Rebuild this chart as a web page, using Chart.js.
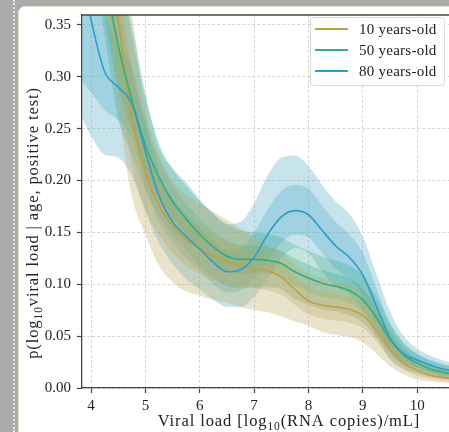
<!DOCTYPE html>
<html>
<head>
<meta charset="utf-8">
<script src="https://cdn.jsdelivr.net/npm/chart.js@4"></script>
<style>
  html, body { margin: 0; padding: 0; width: 449px; height: 432px; overflow: hidden; background: #ababab; }
  #dots { position: absolute; left: 13px; top: 0; height: 432px; border-left: 2px dotted #e4e4e4; }
  #card { position: absolute; left: 18px; top: 6px; width: 520px; height: 500px; background: #fff;
          border: 1px solid #f1e3d1; border-radius: 7px; }
  #chart { position: absolute; left: 0; top: 0; }
</style>
</head>
<body>
<div id="dots"></div>
<div id="card"></div>
<canvas id="chart" width="510" height="432"></canvas>
<script>
// x grid (log10 viral load)
const viralLoad = [3.75,4.0,4.25,4.5,4.75,5.0,5.25,5.5,5.75,6.0,6.25,6.5,6.75,7.0,7.25,7.5,
                   7.75,8.0,8.25,8.5,8.75,9.0,9.25,9.5,9.75,10.0,10.25,10.5,10.75,11.0,11.25,11.5];
const xTicks = [4, 5, 6, 7, 8, 9, 10, 11];
const yTicks = [0, 0.05, 0.10, 0.15, 0.20, 0.25, 0.30, 0.35];

// 10 years-old
const age10Mid   = [0.60,0.52,0.44,0.355,0.262,0.208,0.176,0.156,0.143,0.134,0.127,0.122,0.118,0.115,0.113,0.107,0.095,0.084,0.080,0.078,0.076,0.070,0.056,0.037,0.024,0.017,0.012,0.010,0.009,0.009,0.009,0.009];
const age10InLo  = [0.55,0.47,0.38,0.31,0.215,0.172,0.148,0.130,0.118,0.110,0.104,0.100,0.097,0.096,0.094,0.090,0.080,0.071,0.067,0.065,0.063,0.058,0.045,0.029,0.018,0.012,0.009,0.007,0.006,0.006,0.006,0.006];
const age10InHi  = [0.65,0.57,0.49,0.40,0.31,0.235,0.198,0.176,0.163,0.155,0.147,0.141,0.135,0.130,0.125,0.119,0.108,0.097,0.093,0.090,0.087,0.081,0.065,0.045,0.030,0.021,0.016,0.013,0.012,0.012,0.012,0.012];
const age10OutLo = [0.52,0.45,0.38,0.27,0.185,0.148,0.118,0.102,0.093,0.089,0.085,0.082,0.078,0.075,0.073,0.069,0.064,0.060,0.054,0.051,0.049,0.044,0.033,0.021,0.013,0.008,0.006,0.005,0.004,0.004,0.004,0.004];
const age10OutHi = [0.70,0.62,0.54,0.45,0.36,0.27,0.225,0.200,0.187,0.178,0.170,0.162,0.154,0.145,0.137,0.130,0.120,0.110,0.106,0.103,0.099,0.092,0.075,0.053,0.036,0.026,0.020,0.017,0.015,0.015,0.015,0.015];

// 50 years-old
const age50Mid   = [0.62,0.50,0.40,0.33,0.278,0.234,0.203,0.180,0.163,0.148,0.136,0.127,0.124,0.124,0.123,0.120,0.112,0.106,0.101,0.098,0.094,0.085,0.068,0.047,0.032,0.024,0.018,0.015,0.013,0.013,0.013,0.013];
const age50InLo  = [0.56,0.45,0.36,0.29,0.250,0.210,0.184,0.164,0.148,0.133,0.121,0.112,0.110,0.111,0.110,0.108,0.099,0.093,0.088,0.086,0.082,0.074,0.058,0.040,0.027,0.020,0.015,0.012,0.011,0.010,0.010,0.010];
const age50InHi  = [0.68,0.55,0.44,0.37,0.305,0.256,0.220,0.196,0.178,0.163,0.151,0.142,0.138,0.137,0.136,0.132,0.125,0.119,0.114,0.110,0.106,0.096,0.078,0.055,0.038,0.028,0.022,0.018,0.016,0.016,0.016,0.016];
const age50OutLo = [0.52,0.43,0.34,0.26,0.225,0.190,0.166,0.148,0.133,0.118,0.106,0.098,0.096,0.097,0.097,0.095,0.086,0.080,0.076,0.074,0.070,0.063,0.049,0.033,0.022,0.016,0.012,0.010,0.009,0.008,0.008,0.008];
const age50OutHi = [0.72,0.60,0.50,0.42,0.340,0.280,0.236,0.211,0.195,0.180,0.168,0.158,0.152,0.150,0.148,0.145,0.138,0.132,0.127,0.123,0.118,0.108,0.088,0.063,0.044,0.033,0.026,0.022,0.020,0.019,0.019,0.019];

// 80 years-old
const age80Mid   = [0.42,0.355,0.305,0.290,0.274,0.228,0.185,0.160,0.146,0.134,0.121,0.112,0.114,0.126,0.148,0.165,0.171,0.167,0.152,0.137,0.126,0.109,0.079,0.048,0.033,0.027,0.022,0.018,0.016,0.015,0.015,0.015];
const age80InLo  = [0.30,0.285,0.268,0.258,0.240,0.195,0.160,0.140,0.125,0.113,0.100,0.092,0.094,0.105,0.123,0.140,0.148,0.145,0.130,0.115,0.105,0.088,0.062,0.035,0.024,0.020,0.016,0.013,0.012,0.011,0.011,0.011];
const age80InHi  = [0.45,0.40,0.36,0.33,0.310,0.258,0.208,0.182,0.168,0.155,0.142,0.133,0.135,0.150,0.172,0.190,0.196,0.192,0.176,0.160,0.148,0.130,0.096,0.062,0.042,0.033,0.027,0.023,0.020,0.019,0.019,0.019];
const age80OutLo = [0.27,0.243,0.225,0.222,0.205,0.170,0.140,0.120,0.105,0.095,0.085,0.078,0.078,0.088,0.105,0.125,0.135,0.130,0.112,0.098,0.090,0.075,0.050,0.027,0.018,0.014,0.011,0.009,0.008,0.008,0.008,0.008];
const age80OutHi = [0.50,0.45,0.42,0.39,0.350,0.285,0.232,0.212,0.198,0.182,0.168,0.158,0.160,0.178,0.205,0.222,0.224,0.214,0.196,0.180,0.168,0.146,0.110,0.074,0.050,0.038,0.031,0.026,0.023,0.022,0.022,0.022];

const FONT = "Liberation Serif";

const series = [
  { label: "10 years-old", color: "#bfa041", band: "rgba(190,168,95,0.32)", order: 2,
    mid: age10Mid, inLo: age10InLo, inHi: age10InHi, outLo: age10OutLo, outHi: age10OutHi },
  { label: "50 years-old", color: "#30b07e", band: "rgba(60,168,140,0.30)", order: 1,
    mid: age50Mid, inLo: age50InLo, inHi: age50InHi, outLo: age50OutLo, outHi: age50OutHi },
  { label: "80 years-old", color: "#2b9fc9", band: "rgba(80,170,200,0.32)", order: 0,
    mid: age80Mid, inLo: age80InLo, inHi: age80InHi, outLo: age80OutLo, outHi: age80OutHi }
];

const pts = arr => viralLoad.map((x, i) => ({ x: x, y: arr[i] }));

const datasets = [];
series.forEach(s => {
  const edge = { borderWidth: 0, borderColor: "rgba(0,0,0,0)", pointRadius: 0, order: 10 };
  datasets.push(Object.assign({ data: pts(s.outLo), fill: false }, edge));
  datasets.push(Object.assign({ data: pts(s.outHi), fill: "-1", backgroundColor: s.band }, edge));
  datasets.push(Object.assign({ data: pts(s.inLo), fill: false }, edge));
  datasets.push(Object.assign({ data: pts(s.inHi), fill: "-1", backgroundColor: s.band }, edge));
});
series.forEach(s => {
  datasets.push({ label: s.label, data: pts(s.mid), borderColor: s.color, borderWidth: 1.6,
                  pointRadius: 0, fill: false, order: s.order });
});

// text with a "10" subscript after "log"
function richText(ctx, parts, cx, baseline) {
  const big = "16.5px '" + FONT + "'", small = "11.5px '" + FONT + "'";
  ctx.letterSpacing = "0.9px";
  let w = 0;
  parts.forEach(p => { ctx.font = p.sub ? small : big; w += ctx.measureText(p.t).width; });
  let x = cx - w / 2;
  ctx.textAlign = "left";
  ctx.textBaseline = "alphabetic";
  parts.forEach(p => {
    ctx.font = p.sub ? small : big;
    ctx.fillText(p.t, x, baseline + (p.sub ? 4 : 0));
    x += ctx.measureText(p.t).width;
  });
  ctx.letterSpacing = "0px";
}

const decor = {
  id: "decor",
  afterDraw(chart) {
    const { ctx, chartArea: a } = chart;
    ctx.save();
    // top spine
    ctx.strokeStyle = "#444";
    ctx.lineWidth = 1.3;
    ctx.beginPath();
    ctx.moveTo(a.left, a.top);
    ctx.lineTo(a.right, a.top);
    ctx.stroke();

    ctx.fillStyle = "#222";
    richText(ctx, [{ t: "Viral load [log" }, { t: "10", sub: true }, { t: "(RNA copies)/mL]" }], 289, 426);

    ctx.save();
    ctx.translate(33, 223);
    ctx.rotate(-Math.PI / 2);
    richText(ctx, [{ t: "p(log" }, { t: "10", sub: true }, { t: "viral load | age, positive test)" }], 0, 5);
    ctx.restore();

    // legend
    const bx = 310, by = 17, bw = 134, bh = 68;
    ctx.fillStyle = "rgba(255,255,255,0.85)";
    ctx.strokeStyle = "#dadada";
    ctx.lineWidth = 1;
    ctx.beginPath();
    ctx.roundRect(bx + 0.5, by + 0.5, bw, bh, 3);
    ctx.fill();
    ctx.stroke();
    ctx.font = "15px '" + FONT + "'";
    ctx.letterSpacing = "0.25px";
    ctx.textBaseline = "middle";
    ctx.textAlign = "left";
    series.forEach((s, i) => {
      const y = 29 + i * 21;
      ctx.strokeStyle = s.color;
      ctx.lineWidth = 1.8;
      ctx.beginPath();
      ctx.moveTo(315, y);
      ctx.lineTo(348, y);
      ctx.stroke();
      ctx.fillStyle = "#222";
      ctx.fillText(s.label, 359, y + 1);
    });
    ctx.restore();
  }
};

const tickFont = { family: FONT, size: 15 };

new Chart(document.getElementById("chart"), {
  type: "line",
  data: { datasets: datasets },
  plugins: [decor],
  options: {
    responsive: false,
    animation: false,
    layout: { padding: { top: 10, right: 14, left: 0, bottom: 0 } },
    elements: { line: { cubicInterpolationMode: "monotone" } },
    plugins: {
      legend: { display: false },
      tooltip: { enabled: false },
      filler: { drawTime: "beforeDatasetsDraw" }
    },
    scales: {
      x: {
        type: "linear",
        min: 3.834,
        max: 11.45,
        afterFit: s => { s.height = 44; },
        afterBuildTicks: s => { s.ticks = xTicks.map(v => ({ value: v })); },
        ticks: { font: tickFont, color: "#222", padding: 4, maxRotation: 0, callback: v => String(v) },
        grid: { color: "#d2d2d2", lineWidth: 0.9, tickLength: 5, tickColor: "#444", tickWidth: 1.2, tickBorderDash: [] },
        border: { color: "#444", width: 1.3, dash: [3, 2] }
      },
      y: {
        min: 0,
        max: 0.3595,
        afterFit: s => { s.width = 82; },
        afterBuildTicks: s => { s.ticks = yTicks.map(v => ({ value: v })); },
        ticks: { font: tickFont, color: "#222", padding: 6, callback: v => v.toFixed(2) },
        grid: { color: "#d2d2d2", lineWidth: 0.9, tickLength: 5, tickColor: "#444", tickWidth: 1.2, tickBorderDash: [] },
        border: { color: "#444", width: 1.3, dash: [3, 2] }
      }
    }
  }
});
</script>
</body>
</html>
